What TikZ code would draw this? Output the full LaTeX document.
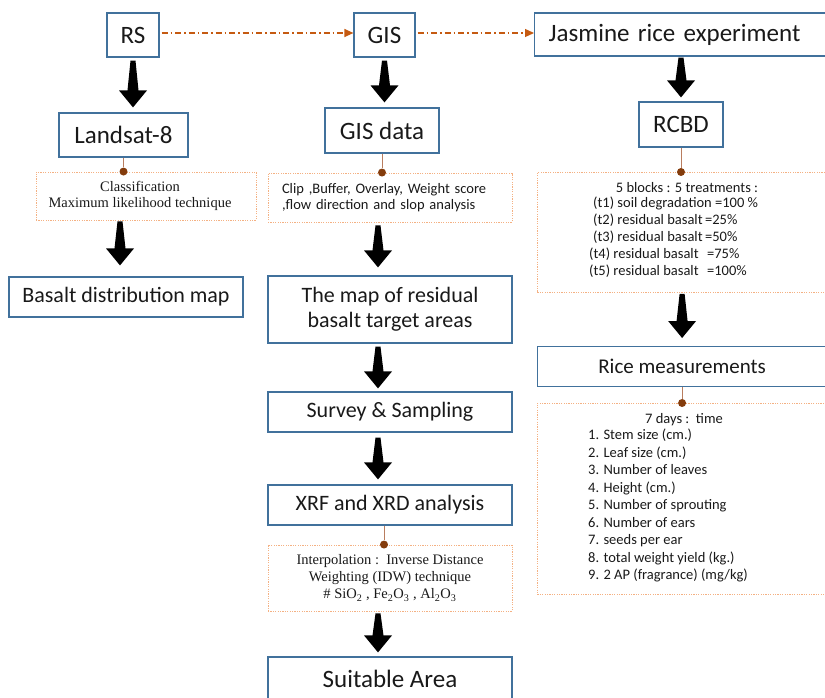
\documentclass[tikz,border=0pt]{standalone}
\usepackage{fontspec}
\setmainfont{Carlito}
\newfontfamily\tnr{Liberation Serif}
\usetikzlibrary{arrows.meta,calc}
\definecolor{boxblue}{RGB}{65,113,156}
\definecolor{dotor}{RGB}{244,177,131}
\definecolor{brn}{RGB}{132,60,12}
\definecolor{orng}{RGB}{197,90,17}
\definecolor{lnbrn}{RGB}{185,125,95}
\newcommand\fatarrow[2]{%
  \fill[black] let \p1=#1, \p2=#2 in
   (\x1-2.5pt,\y1) -- (\x1+2.5pt,\y1) -- (\x1+5.5pt,\y2+17pt) -- (\x1+14pt,\y2+17pt)
   -- (\x1,\y2) -- (\x1-14pt,\y2+17pt) -- (\x1-5.5pt,\y2+17pt) -- cycle;}
\begin{document}
\begin{tikzpicture}[x=1pt,y=-1pt,
  box/.style={draw=boxblue, line width=1.2pt, inner sep=0pt, align=center,
    font=\fontsize{22}{25}\selectfont, text=black!90},
  bigbox/.style={box, font=\fontsize{25}{28}\selectfont},
  dbox/.style={draw=dotor, line width=0.9pt, dash pattern=on 1.2pt off 1.2pt, inner sep=0pt},
  orarrow/.style={draw=orng, line width=1.2pt, dash pattern=on 6pt off 3pt on 1.5pt off 3pt,
    -{Triangle[length=9pt,width=8pt]}},
  stem/.style={draw=lnbrn, line width=0.8pt},
  dot/.style={circle, fill=brn, inner sep=0pt, minimum size=8pt},
  txt/.style={inner sep=0pt, font=\fontsize{14.5}{17}\selectfont, text=black!90},
  serif/.style={font=\tnr\fontsize{14.5}{16.5}\selectfont, text=black!90}]
\useasboundingbox (0,0) rectangle (825,698);
% top row
\node[bigbox,minimum width=52pt,minimum height=44pt] (rs) at (133,35) {RS};
\node[bigbox,minimum width=61pt,minimum height=44pt] (gis) at (384.5,35) {GIS};
\node[bigbox,anchor=west,minimum height=43pt,text width=264pt,inner xsep=14pt,align=left] (jas) at (534,34.5) {Jasmine rice experiment};
\draw[orarrow] ([yshift=2pt,xshift=2pt]rs.east) -- ([yshift=2pt]gis.west);
\draw[orarrow] ([yshift=2pt,xshift=2pt]gis.east) -- ([yshift=1.5pt]jas.west);
% second row
\node[bigbox,minimum width=129pt,minimum height=44pt] (landsat) at (123.5,135) {Landsat-8};
\node[bigbox,minimum width=114pt,minimum height=45pt] (gisdata) at (382,130.5) {GIS data};
\node[bigbox,minimum width=84pt,minimum height=45pt] (rcbd) at (681,124.5) {RCBD};
\fatarrow{([yshift=-3pt]rs.south)}{([yshift=5pt]landsat.north)}
\fatarrow{([yshift=-3pt]gis.south)}{([yshift=5pt]gisdata.north)}
\fatarrow{([yshift=-1pt]rcbd.north |- jas.south)}{([yshift=4pt]rcbd.north)}
% left column
\node[dbox,minimum width=220pt,minimum height=48pt] (cls) at (146,196) {};
\node[serif,align=center,inner sep=0pt] (clstxt) at (140,196) {Classification\\Maximum likelihood technique};
\node[box,minimum width=234pt,minimum height=40pt] (bmap) at (126,297) {Basalt distribution map};
\fatarrow{([xshift=-6pt,yshift=-1pt]bmap.north |- cls.south)}{([xshift=-6pt,yshift=11pt]bmap.north)}
% middle column
\node[dbox,minimum width=244pt,minimum height=49pt,text width=216pt,inner xsep=14pt,align=left,
  font=\fontsize{14.5}{16}\selectfont, text=black!90] (clip) at (390,197.5) {Clip ,Buffer, Overlay, Weight score\\,flow direction and slop analysis};
\node[box,minimum width=244pt,minimum height=67pt] (resid) at (390,309.5) {The map of residual\\basalt target areas};
\node[box,minimum width=244pt,minimum height=40pt] (survey) at (390,412) {Survey \& Sampling};
\node[box,minimum width=244pt,minimum height=40pt] (xrf) at (390,505) {XRF and XRD analysis};
\node[dbox,serif,minimum width=244pt,minimum height=66pt,align=center,font=\tnr\fontsize{14.5}{17}\selectfont] (idw) at (390,578) {Interpolation :\ \ Inverse Distance\\Weighting (IDW) technique\\\# SiO\textsubscript{2} , Fe\textsubscript{2}O\textsubscript{3} , Al\textsubscript{2}O\textsubscript{3}};
\node[bigbox,minimum width=244pt,minimum height=44pt] (suit) at (390,679) {Suitable Area};
\fatarrow{([xshift=-12pt,yshift=-3pt]clip.south)}{([xshift=-12pt,yshift=8pt]resid.north)}
\fatarrow{([xshift=-12pt,yshift=-3pt]resid.south)}{([xshift=-12pt,yshift=3pt]survey.north)}
\fatarrow{([xshift=-12pt,yshift=-5pt]survey.south)}{([xshift=-12pt,yshift=5pt]xrf.north)}
\fatarrow{([xshift=-12pt,yshift=-2pt]idw.south)}{([xshift=-12pt,yshift=4pt]suit.north)}
% right column
\node[dbox,anchor=north west,minimum width=289pt,minimum height=120pt] (treat) at (537,172) {};
\node[txt] (th) at (687,188) {5 blocks : 5 treatments :};
\node[txt,anchor=north west,align=left] (tl) at (593,197) {%
(t1) soil degradation =100 \%\\
\makebox[112pt][l]{(t2) residual basalt}=25\%\\
\makebox[112pt][l]{(t3) residual basalt}=50\%\\
\makebox[114pt][l]{\hspace{-4pt}(t4) residual basalt}=75\%\\
\makebox[114pt][l]{\hspace{-4pt}(t5) residual basalt}=100\%};
\node[box,anchor=north west,minimum width=289pt,minimum height=40pt,font=\fontsize{21}{25}\selectfont] (rice) at (537,346) {Rice measurements};
\fatarrow{([yshift=-1pt]rice.north |- treat.south)}{([yshift=8pt]rice.north)}
\node[dbox,anchor=north west,minimum width=289pt,minimum height=191pt] (meas) at (537,403) {};
\node[txt] (mh) at (684,420) {7 days :\ \ time};
\node[txt,anchor=north west,align=left,font=\fontsize{14.5}{17.5}\selectfont] (ml) at (588,429) {%
1. Stem size (cm.)\\
2. Leaf size (cm.)\\
3. Number of leaves\\
4. Height (cm.)\\
5. Number of sprouting\\
6. Number of ears\\
7. seeds per ear\\
8. total weight yield (kg.)\\
9. 2 AP (fragrance) (mg/kg)};
% stems and dots
\node[dot] (d1) at (landsat.south |- cls.north) {};
\node[dot] (d2) at (gisdata.south |- clip.north) {};
\node[dot] (d3) at (rcbd.south |- treat.north) {};
\node[dot] (d4) at (rice.south |- meas.north) {};
\node[dot] (d5) at ([xshift=-6pt]xrf.south |- idw.north) {};
\draw[stem] (landsat.south) -- (d1);
\draw[stem] (gisdata.south) -- (d2);
\draw[stem] (rcbd.south) -- (d3);
\draw[stem] (rice.south) -- (d4);
\draw[stem] (d5 |- xrf.south) -- (d5);
\end{tikzpicture}
\end{document}
